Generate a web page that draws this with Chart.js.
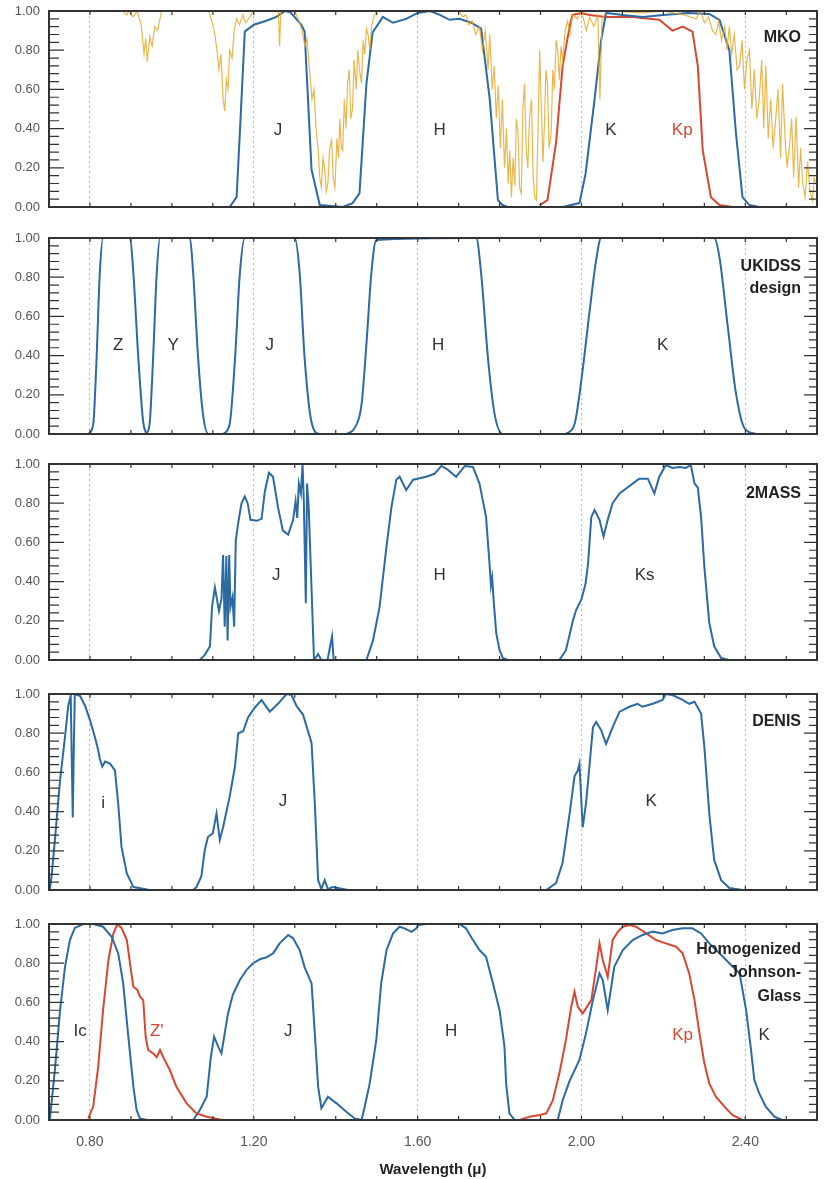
<!DOCTYPE html>
<html>
<head>
<meta charset="utf-8">
<script src="https://cdn.jsdelivr.net/npm/chart.js@4"></script>
<style>
  body { margin: 0; background: #fff; }
  #wrap { position: relative; width: 825px; height: 1179px; overflow: hidden; }
  #wrap canvas { position: absolute; left: 0; }
</style>
</head>
<body>
<div id="wrap"></div>
<script>
// wavelength range (micron) and tick labels
const xMin = 0.70, xMax = 2.575;
const xTickValues = [0.8, 1.2, 1.6, 2.0, 2.4];
const yTickValues = [0, 0.2, 0.4, 0.6, 0.8, 1.0];

// ---- MKO: atmosphere + filters, [wavelength, transmission]
const mkoAtmos = [[0.70,1.0],[0.88,1.0],[0.89,0.98],[0.895,1.0],[0.905,0.97],[0.915,1.0],[0.925,0.93],[0.932,0.78],[0.936,0.86],[0.94,0.74],[0.946,0.87],[0.952,0.82],[0.958,0.92],[0.965,0.9],[0.975,1.0],[1.09,1.0],[1.10,0.93],[1.105,0.88],[1.11,0.8],[1.115,0.7],[1.12,0.78],[1.125,0.55],[1.129,0.49],[1.133,0.65],[1.137,0.6],[1.141,0.8],[1.147,0.76],[1.152,0.9],[1.158,0.96],[1.165,0.93],[1.173,0.98],[1.18,0.94],[1.19,0.97],[1.20,1.0],[1.26,1.0],[1.263,0.82],[1.266,1.0],[1.30,1.0],[1.31,0.95],[1.318,0.9],[1.325,0.82],[1.33,0.86],[1.336,0.7],[1.342,0.55],[1.347,0.6],[1.352,0.4],[1.357,0.29],[1.361,0.15],[1.365,0.1],[1.369,0.25],[1.373,0.2],[1.377,0.08],[1.381,0.12],[1.385,0.3],[1.39,0.34],[1.394,0.15],[1.398,0.1],[1.403,0.35],[1.407,0.25],[1.41,0.45],[1.414,0.3],[1.417,0.29],[1.421,0.55],[1.425,0.4],[1.429,0.63],[1.433,0.7],[1.437,0.45],[1.441,0.5],[1.445,0.75],[1.45,0.6],[1.454,0.8],[1.458,0.7],[1.463,0.63],[1.467,0.85],[1.471,0.78],[1.475,0.91],[1.479,0.88],[1.483,0.8],[1.488,0.93],[1.495,0.98],[1.50,1.0],[1.70,1.0],[1.71,0.97],[1.718,0.98],[1.725,0.93],[1.733,0.95],[1.742,0.88],[1.751,0.92],[1.758,0.8],[1.765,0.9],[1.772,0.7],[1.776,0.88],[1.782,0.6],[1.787,0.72],[1.792,0.45],[1.797,0.62],[1.802,0.3],[1.807,0.55],[1.812,0.2],[1.817,0.4],[1.821,0.12],[1.825,0.29],[1.829,0.05],[1.833,0.25],[1.837,0.11],[1.841,0.45],[1.845,0.38],[1.849,0.1],[1.853,0.07],[1.857,0.5],[1.861,0.63],[1.865,0.3],[1.869,0.2],[1.873,0.45],[1.878,0.55],[1.882,0.15],[1.886,0.05],[1.89,0.035],[1.894,0.4],[1.898,0.8],[1.902,0.5],[1.906,0.23],[1.91,0.45],[1.913,0.7],[1.917,0.63],[1.921,0.3],[1.926,0.38],[1.93,0.7],[1.934,0.6],[1.938,0.85],[1.942,0.8],[1.946,0.65],[1.95,0.82],[1.954,0.75],[1.96,0.9],[1.966,0.95],[1.972,0.88],[1.978,0.98],[1.99,0.96],[2.0,1.0],[2.012,0.9],[2.02,0.97],[2.03,0.92],[2.04,0.98],[2.045,0.55],[2.05,0.95],[2.06,1.0],[2.15,0.99],[2.2,1.0],[2.25,0.98],[2.28,0.96],[2.29,1.0],[2.30,0.94],[2.31,0.97],[2.32,0.9],[2.328,0.88],[2.335,0.95],[2.342,0.85],[2.35,0.92],[2.355,0.8],[2.361,0.92],[2.367,0.78],[2.373,0.88],[2.38,0.7],[2.386,0.72],[2.392,0.85],[2.398,0.6],[2.404,0.75],[2.41,0.8],[2.416,0.5],[2.422,0.7],[2.428,0.45],[2.434,0.55],[2.44,0.75],[2.445,0.4],[2.45,0.72],[2.456,0.35],[2.462,0.55],[2.468,0.3],[2.475,0.47],[2.48,0.6],[2.486,0.25],[2.491,0.63],[2.497,0.35],[2.502,0.2],[2.507,0.29],[2.513,0.45],[2.518,0.15],[2.524,0.46],[2.53,0.1],[2.535,0.3],[2.54,0.12],[2.546,0.05],[2.552,0.23],[2.558,0.08],[2.564,0.035],[2.568,0.15],[2.575,0.1]];
const mkoJ = [[1.10,0],[1.141,0.0],[1.158,0.05],[1.166,0.38],[1.178,0.895],[1.20,0.93],[1.231,0.95],[1.255,0.97],[1.276,1.0],[1.288,0.995],[1.295,0.98],[1.316,0.93],[1.324,0.895],[1.341,0.19],[1.361,0.01],[1.417,0]];
const mkoH = [[1.417,0],[1.441,0.02],[1.458,0.07],[1.475,0.63],[1.49,0.89],[1.515,0.97],[1.54,0.94],[1.572,0.96],[1.60,0.99],[1.63,1.0],[1.654,0.98],[1.678,0.955],[1.702,0.96],[1.731,0.94],[1.755,0.91],[1.776,0.55],[1.796,0.035],[1.807,0.01],[1.82,0]];
const mkoK = [[1.954,0],[1.995,0.02],[2.01,0.17],[2.032,0.55],[2.048,0.85],[2.06,0.99],[2.10,0.98],[2.15,0.97],[2.20,0.98],[2.26,0.99],[2.312,0.985],[2.337,0.955],[2.361,0.80],[2.377,0.38],[2.393,0.05],[2.41,0.01],[2.434,0]];
const mkoKp = [[1.898,0.01],[1.917,0.035],[1.938,0.33],[1.954,0.72],[1.971,0.92],[1.978,0.98],[2.0,0.99],[2.02,0.98],[2.06,0.97],[2.125,0.97],[2.141,0.965],[2.19,0.955],[2.222,0.90],[2.247,0.92],[2.271,0.895],[2.284,0.72],[2.296,0.29],[2.316,0.05],[2.337,0.01],[2.368,0]];

// ---- UKIDSS design filters
const ukZ = [[0.796,0],[0.808,0.05],[0.816,0.38],[0.824,0.82],[0.832,1.0],[0.898,1.0],[0.906,0.82],[0.918,0.39],[0.93,0.06],[0.938,0]];
const ukY = [[0.938,0],[0.946,0.06],[0.954,0.38],[0.963,0.82],[0.971,1.0],[1.044,1.0],[1.052,0.82],[1.064,0.39],[1.076,0.10],[1.089,0],[1.125,0]];
const ukJ = [[1.125,0],[1.141,0.05],[1.154,0.38],[1.166,0.82],[1.178,1.0],[1.30,1.0],[1.312,0.82],[1.324,0.39],[1.341,0.06],[1.361,0],[1.426,0]];
const ukH = [[1.426,0],[1.446,0.03],[1.463,0.15],[1.475,0.46],[1.487,0.82],[1.499,0.99],[1.743,1.0],[1.755,0.82],[1.772,0.38],[1.788,0.10],[1.808,0],[1.962,0]];
const ukK = [[1.962,0],[1.983,0.05],[2.0,0.28],[2.02,0.63],[2.036,0.89],[2.048,1.0],[2.324,1.0],[2.337,0.9],[2.357,0.55],[2.377,0.21],[2.398,0.03],[2.426,0]];

// ---- 2MASS
const tmJ = [[1.068,0],[1.08,0.025],[1.093,0.07],[1.098,0.27],[1.105,0.37],[1.11,0.31],[1.115,0.25],[1.121,0.31],[1.125,0.535],[1.129,0.17],[1.133,0.53],[1.136,0.10],[1.14,0.535],[1.143,0.27],[1.148,0.32],[1.152,0.17],[1.156,0.61],[1.162,0.70],[1.17,0.80],[1.178,0.835],[1.185,0.80],[1.192,0.715],[1.207,0.71],[1.219,0.72],[1.227,0.86],[1.237,0.955],[1.247,0.935],[1.259,0.78],[1.271,0.66],[1.284,0.64],[1.296,0.715],[1.302,0.81],[1.306,0.725],[1.31,0.90],[1.315,0.85],[1.319,1.0],[1.322,0.82],[1.327,0.29],[1.33,0.90],[1.334,0.78],[1.341,0.36],[1.347,0.0],[1.357,0.03],[1.365,0.0],[1.38,0],[1.391,0.12],[1.395,0.0],[1.471,0]];
const tmH = [[1.471,0],[1.475,0.0],[1.491,0.10],[1.507,0.27],[1.524,0.58],[1.536,0.78],[1.548,0.92],[1.556,0.935],[1.572,0.867],[1.589,0.92],[1.621,0.935],[1.641,0.95],[1.658,0.99],[1.674,0.97],[1.694,0.935],[1.715,0.99],[1.735,0.985],[1.751,0.90],[1.767,0.73],[1.776,0.475],[1.779,0.38],[1.782,0.42],[1.786,0.29],[1.792,0.136],[1.80,0.05],[1.808,0.01],[1.82,0]];
const tmKs = [[1.946,0],[1.962,0.05],[1.979,0.20],[1.987,0.255],[2.0,0.31],[2.01,0.39],[2.016,0.49],[2.024,0.73],[2.032,0.765],[2.044,0.715],[2.054,0.63],[2.064,0.715],[2.076,0.80],[2.093,0.85],[2.109,0.875],[2.125,0.90],[2.141,0.925],[2.162,0.925],[2.178,0.85],[2.19,0.935],[2.206,0.995],[2.222,0.98],[2.239,0.985],[2.255,0.98],[2.267,0.995],[2.276,0.90],[2.284,0.88],[2.292,0.73],[2.30,0.475],[2.312,0.19],[2.324,0.07],[2.341,0.01],[2.36,0]];

// ---- DENIS
const dnI = [[0.702,0],[0.707,0.085],[0.715,0.27],[0.727,0.56],[0.739,0.78],[0.747,0.94],[0.753,0.99],[0.758,0.37],[0.761,0.78],[0.763,1.0],[0.776,0.99],[0.788,0.94],[0.80,0.867],[0.812,0.78],[0.82,0.714],[0.824,0.67],[0.83,0.63],[0.837,0.655],[0.849,0.645],[0.861,0.61],[0.869,0.44],[0.877,0.22],[0.89,0.085],[0.906,0.015],[0.946,0],[1.052,0]];
const dnJ = [[1.052,0],[1.06,0.015],[1.072,0.07],[1.08,0.20],[1.088,0.27],[1.10,0.29],[1.109,0.39],[1.117,0.255],[1.125,0.32],[1.141,0.475],[1.154,0.63],[1.162,0.80],[1.174,0.81],[1.186,0.88],[1.202,0.93],[1.219,0.969],[1.239,0.91],[1.259,0.95],[1.28,1.0],[1.292,0.995],[1.304,0.94],[1.32,0.895],[1.341,0.75],[1.349,0.44],[1.357,0.05],[1.365,0.005],[1.373,0.05],[1.381,0.005],[1.393,0.015],[1.43,0]];
const dnK = [[1.914,0],[1.938,0.035],[1.954,0.14],[1.971,0.39],[1.983,0.58],[1.991,0.61],[1.995,0.645],[2.003,0.32],[2.011,0.44],[2.02,0.645],[2.028,0.83],[2.036,0.857],[2.048,0.816],[2.06,0.745],[2.076,0.83],[2.093,0.91],[2.117,0.935],[2.137,0.95],[2.149,0.935],[2.174,0.95],[2.198,0.97],[2.206,1.0],[2.222,0.995],[2.247,0.97],[2.263,0.95],[2.276,0.96],[2.292,0.90],[2.30,0.73],[2.312,0.39],[2.324,0.153],[2.341,0.05],[2.361,0.01],[2.393,0],[2.43,0]];

// ---- Homogenized Johnson-Glass
const hjIc = [[0.702,0],[0.715,0.27],[0.727,0.56],[0.739,0.78],[0.751,0.918],[0.763,0.98],[0.784,1.0],[0.808,1.0],[0.832,0.986],[0.853,0.935],[0.869,0.85],[0.881,0.70],[0.893,0.44],[0.906,0.17],[0.914,0.05],[0.922,0.008],[0.94,0]];
const hjZ = [[0.796,0.008],[0.808,0.07],[0.82,0.27],[0.832,0.56],[0.845,0.816],[0.857,0.95],[0.867,1.0],[0.877,0.98],[0.89,0.918],[0.899,0.78],[0.906,0.68],[0.916,0.663],[0.922,0.63],[0.93,0.612],[0.936,0.425],[0.942,0.357],[0.954,0.34],[0.963,0.32],[0.971,0.357],[0.979,0.32],[0.995,0.255],[1.011,0.17],[1.036,0.085],[1.06,0.034],[1.085,0.017],[1.117,0.003],[1.13,0]];
const hjJ = [[1.052,0],[1.068,0.05],[1.085,0.119],[1.095,0.32],[1.103,0.425],[1.113,0.374],[1.121,0.34],[1.137,0.544],[1.149,0.64],[1.166,0.714],[1.182,0.765],[1.198,0.80],[1.215,0.82],[1.231,0.83],[1.247,0.85],[1.263,0.901],[1.284,0.944],[1.296,0.927],[1.312,0.867],[1.324,0.78],[1.341,0.697],[1.349,0.44],[1.357,0.17],[1.365,0.06],[1.381,0.119],[1.402,0.085],[1.426,0.042],[1.446,0.008],[1.463,0]];
const hjH = [[1.463,0],[1.471,0.07],[1.483,0.187],[1.499,0.408],[1.511,0.697],[1.524,0.867],[1.54,0.952],[1.556,0.986],[1.568,0.978],[1.585,0.96],[1.597,0.978],[1.601,0.995],[1.621,1.0],[1.702,1.0],[1.718,0.978],[1.735,0.918],[1.751,0.867],[1.767,0.833],[1.784,0.697],[1.80,0.56],[1.812,0.374],[1.816,0.187],[1.824,0.034],[1.837,0],[1.85,0]];
const hjKp = [[1.849,0],[1.873,0.017],[1.898,0.025],[1.914,0.034],[1.93,0.10],[1.946,0.238],[1.962,0.408],[1.975,0.578],[1.983,0.655],[1.991,0.578],[2.003,0.544],[2.024,0.612],[2.036,0.78],[2.044,0.901],[2.052,0.816],[2.064,0.73],[2.076,0.918],[2.089,0.961],[2.101,0.986],[2.117,0.995],[2.133,0.986],[2.158,0.952],[2.182,0.918],[2.206,0.901],[2.231,0.884],[2.247,0.85],[2.263,0.748],[2.276,0.612],[2.288,0.442],[2.30,0.289],[2.312,0.187],[2.328,0.119],[2.349,0.068],[2.369,0.025],[2.393,0]];
const hjK = [[1.942,0],[1.954,0.10],[1.971,0.20],[1.995,0.306],[2.011,0.442],[2.028,0.612],[2.044,0.748],[2.052,0.714],[2.064,0.56],[2.08,0.782],[2.101,0.867],[2.125,0.918],[2.149,0.944],[2.174,0.961],[2.198,0.952],[2.222,0.969],[2.247,0.978],[2.271,0.978],[2.292,0.952],[2.312,0.901],[2.337,0.85],[2.361,0.80],[2.386,0.748],[2.402,0.56],[2.414,0.357],[2.422,0.204],[2.434,0.136],[2.45,0.068],[2.471,0.017],[2.49,0]];

const BLUE = '#2b6aa3';
const RED = '#d8472f';
const ORANGE = 'rgba(232,170,45,0.85)';
const FONT = "'Liberation Sans', Arial, Helvetica, sans-serif";

const panels = [
  { top: 11,
    series: [[mkoAtmos, ORANGE, 1.2], [mkoJ, BLUE, 2], [mkoH, BLUE, 2], [mkoK, BLUE, 2], [mkoKp, RED, 2]],
    labels: [['J', 1.259, 0.39], ['H', 1.654, 0.39], ['K', 2.072, 0.39], ['Kp', 2.246, 0.39, RED]],
    names: [['MKO', 0.862]] },
  { top: 238, smooth: true,
    series: [[ukZ, BLUE, 2], [ukY, BLUE, 2], [ukJ, BLUE, 2], [ukH, BLUE, 2], [ukK, BLUE, 2]],
    labels: [['Z', 0.869, 0.45], ['Y', 1.003, 0.45], ['J', 1.239, 0.45], ['H', 1.65, 0.45], ['K', 2.198, 0.45]],
    names: [['UKIDSS', 0.853], ['design', 0.743]] },
  { top: 464,
    series: [[tmJ, BLUE, 2], [tmH, BLUE, 2], [tmKs, BLUE, 2]],
    labels: [['J', 1.255, 0.43], ['H', 1.654, 0.43], ['Ks', 2.154, 0.43]],
    names: [['2MASS', 0.85]] },
  { top: 694,
    series: [[dnI, BLUE, 2], [dnJ, BLUE, 2], [dnK, BLUE, 2]],
    labels: [['i', 0.832, 0.44], ['J', 1.271, 0.45], ['K', 2.17, 0.45]],
    names: [['DENIS', 0.859]] },
  { top: 924,
    series: [[hjIc, BLUE, 2], [hjZ, RED, 2], [hjJ, BLUE, 2], [hjH, BLUE, 2], [hjK, BLUE, 2], [hjKp, RED, 2]],
    labels: [['Ic', 0.776, 0.45], ["Z'", 0.963, 0.45, RED], ['J', 1.284, 0.45], ['H', 1.682, 0.45], ['Kp', 2.247, 0.434, RED], ['K', 2.446, 0.434]],
    names: [['Homogenized', 0.867], ['Johnson-', 0.75], ['Glass', 0.629]] }
];

// box, inward ticks on all four sides, band and panel labels
const framePlugin = {
  id: 'frame',
  afterDatasetsDraw(chart, args, opts) {
    const { ctx, chartArea: a, scales: { x, y } } = chart;
    ctx.save();
    ctx.strokeStyle = '#333';
    ctx.lineWidth = 1.2;
    ctx.beginPath();
    for (let i = 1; i < 25; i++) {
      const py = y.getPixelForValue(i * 0.04);
      const major = i % 5 === 0;
      ctx.moveTo(a.left, py); ctx.lineTo(a.left + (major ? 15 : 10), py);
      ctx.moveTo(a.right, py); ctx.lineTo(a.right - (major ? 13 : 8), py);
    }
    for (let i = 8; i <= 25; i++) {
      const px = x.getPixelForValue(i / 10);
      ctx.moveTo(px, a.top); ctx.lineTo(px, a.top + 4);
      ctx.moveTo(px, a.bottom); ctx.lineTo(px, a.bottom - 4);
    }
    ctx.stroke();
    ctx.lineWidth = 2;
    ctx.strokeRect(a.left, a.top, a.right - a.left, a.bottom - a.top);

    ctx.textBaseline = 'middle';
    ctx.textAlign = 'center';
    ctx.font = '17px ' + FONT;
    opts.labels.forEach(([t, lx, ly, c]) => {
      ctx.fillStyle = c || '#333';
      ctx.fillText(t, x.getPixelForValue(lx), y.getPixelForValue(ly));
    });
    ctx.textAlign = 'right';
    ctx.font = 'bold 16px ' + FONT;
    ctx.fillStyle = '#222';
    opts.names.forEach(([t, ly]) => {
      ctx.fillText(t, x.getPixelForValue(2.536), y.getPixelForValue(ly));
    });
    ctx.restore();
  }
};

const noPad = s => { s.paddingTop = 0; s.paddingBottom = 0; s.paddingLeft = 0; s.paddingRight = 0; };

const wrap = document.getElementById('wrap');
const PLOT_H = 196;

panels.forEach((p, idx) => {
  const last = idx === panels.length - 1;
  const bottomSpace = last ? 59 : 6;
  const canvas = document.createElement('canvas');
  canvas.width = 825;
  canvas.height = 6 + PLOT_H + bottomSpace;
  canvas.style.top = (p.top - 6) + 'px';
  wrap.appendChild(canvas);

  new Chart(canvas, {
    type: 'line',
    data: {
      datasets: p.series.map(([pts, color, w]) => ({
        data: pts.map(([wl, t]) => ({ x: wl, y: t })),
        borderColor: color,
        borderWidth: w,
        pointRadius: 0,
        tension: 0,
        cubicInterpolationMode: p.smooth ? 'monotone' : 'default',
        fill: false
      }))
    },
    options: {
      responsive: false,
      animation: false,
      layout: { autoPadding: false, padding: { top: 6, right: 8, bottom: 0, left: 0 } },
      plugins: {
        legend: { display: false },
        tooltip: { enabled: false },
        frame: { labels: p.labels, names: p.names }
      },
      scales: {
        x: {
          type: 'linear',
          min: xMin,
          max: xMax,
          afterBuildTicks: s => { s.ticks = xTickValues.map(v => ({ value: v })); },
          afterFit: s => { s.height = bottomSpace; noPad(s); },
          ticks: {
            display: last,
            color: '#555',
            font: { family: FONT, size: 14 },
            padding: 14,
            maxRotation: 0,
            callback: v => v.toFixed(2)
          },
          grid: { color: '#b8b8b8', lineWidth: 1, drawTicks: false },
          border: { display: false, dash: [2, 3] },
          title: {
            display: last,
            text: 'Wavelength (μ)',
            color: '#222',
            font: { family: FONT, size: 15, weight: 'bold' },
            padding: 0
          }
        },
        y: {
          min: 0,
          max: 1,
          afterBuildTicks: s => { s.ticks = yTickValues.map(v => ({ value: v })); },
          afterFit: s => { s.width = 49; noPad(s); },
          ticks: {
            color: '#555',
            font: { family: FONT, size: 13 },
            padding: 9,
            callback: v => v.toFixed(2)
          },
          grid: { display: false, drawTicks: false },
          border: { display: false }
        }
      }
    },
    plugins: [framePlugin]
  });
});
</script>
</body>
</html>
